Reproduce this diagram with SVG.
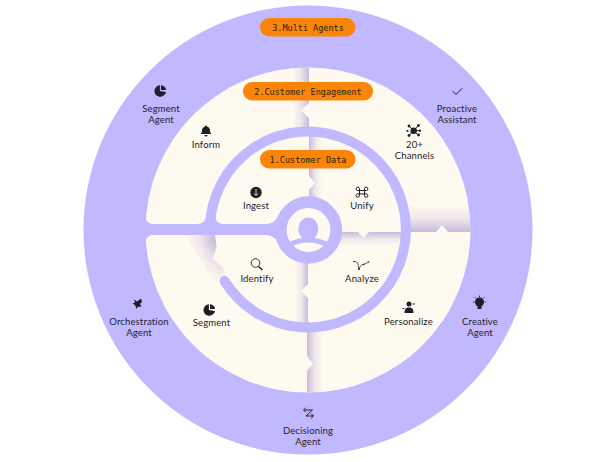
<svg xmlns="http://www.w3.org/2000/svg" width="616" height="462" viewBox="0 0 616 462">
<style>
.p{fill:#c2b8ff}
.c{fill:#fffaf0}
.t{font-family:"Lato","Noto Sans",sans-serif;font-size:9.5px;letter-spacing:.15px;fill:#1f1d28;text-anchor:middle}
.b{font-family:"DejaVu Sans Mono","Liberation Mono",monospace;font-size:8.5px;fill:#2e2210;text-anchor:middle}
.o{fill:#fb8508}
.k{fill:#1f1d28}
.s{fill:none;stroke:#1f1d28;stroke-width:1;stroke-linecap:round;stroke-linejoin:round}
</style>
<defs>
<linearGradient id="gl" x1="0" x2="1" y1="0" y2="0"><stop offset="0" stop-color="#c8bbdc" stop-opacity="0"/><stop offset=".5" stop-color="#c8bbdc" stop-opacity=".3"/><stop offset="1" stop-color="#c8bbdc"/></linearGradient>
<linearGradient id="gr" x1="0" x2="1" y1="0" y2="0"><stop offset="0" stop-color="#c8bbdc"/><stop offset=".5" stop-color="#c8bbdc" stop-opacity=".3"/><stop offset="1" stop-color="#c8bbdc" stop-opacity="0"/></linearGradient>
<linearGradient id="gu" x1="0" x2="0" y1="0" y2="1"><stop offset="0" stop-color="#c8bbdc" stop-opacity="0"/><stop offset=".5" stop-color="#c8bbdc" stop-opacity=".3"/><stop offset="1" stop-color="#c8bbdc"/></linearGradient>
<linearGradient id="gd" x1="0" x2="0" y1="0" y2="1"><stop offset="0" stop-color="#c8bbdc"/><stop offset=".5" stop-color="#c8bbdc" stop-opacity=".3"/><stop offset="1" stop-color="#c8bbdc" stop-opacity="0"/></linearGradient>
<radialGradient id="gf" gradientUnits="userSpaceOnUse" cx="308" cy="230" r="126"><stop offset=".74" stop-color="#c8bbdc"/><stop offset=".86" stop-color="#c8bbdc" stop-opacity=".3"/><stop offset="1" stop-color="#c8bbdc" stop-opacity="0"/></radialGradient>
<linearGradient id="gm" gradientUnits="userSpaceOnUse" x1="0" x2="0" y1="242" y2="284"><stop offset="0" stop-color="#fff"/><stop offset="1" stop-color="#000"/></linearGradient>
<mask id="mf" maskUnits="userSpaceOnUse" x="170" y="230" width="70" height="65"><rect x="170" y="230" width="70" height="65" fill="url(#gm)"/></mask>
<clipPath id="cd"><circle cx="308" cy="230" r="162.500"/></clipPath>
<g id="pie"><path class="k" d="M-.6-5.700A5.700 5.700 0 1 0 5.200 1.300L-.6 0Z"/><path class="k" d="M.5-5.700A5.700 5.700 0 0 1 5.600-.9L.5-.9Z"/><path class="k" d="M2 .6L5.500 1.300A5.700 5.700 0 0 1 4.200 3.600Z"/></g>
</defs>

<g id="discs">
<circle class="p" cx="308" cy="230" r="224.500"/>
<circle class="c" cx="308" cy="230" r="162.500"/>
</g>

<g id="shadows" clip-path="url(#cd)">
<path fill="url(#gl)" d="M292 66H309V103L301 110.500L309 118V129H292Z"/>
<path fill="url(#gr)" d="M309 135H322V198H309V190L315 183L309 176Z"/>
<path fill="url(#gl)" d="M295 262H308V284L301 291L308 298V325H295Z"/>
<path fill="url(#gr)" d="M307 331H323V394H307V371L313 363.500L307 356Z"/>
<path fill="url(#gd)" d="M340 232H358L363.500 238L369 232H403V246H340Z"/>
<path fill="url(#gu)" d="M404 205H472V232H448L442 225L436 232H404Z"/>
<path fill="url(#gf)" mask="url(#mf)" d="M215 235L216.600 247L212.700 259L223 268L226 278L216 285L186 235Z"/>
</g>

<g id="rings">
<path d="M210 226A98 98 0 1 1 224.600 281" fill="none" stroke="#c2b8ff" stroke-width="10" stroke-linecap="round"/>
<rect class="p" x="144" y="224" width="135" height="11"/>
<path class="p" d="M145.500 216Q146 224 153 224H145.500ZM145.500 243Q146 235 153 235H145.500ZM197 224Q205 224 207 215L205 224ZM215 216Q216 224 224 224H215ZM266 224Q275 224 280 214L276 224ZM266 235Q275 235 280 245L276 235Z"/>
<circle cx="308.500" cy="230" r="27.800" fill="#fffaf0" stroke="#c2b8ff" stroke-width="11.800"/>
<ellipse class="p" cx="308.300" cy="229" rx="10" ry="11.500"/>
<path d="M287 246Q308 234 330 246" fill="none" stroke="#c2b8ff" stroke-width="5"/>
</g>

<g id="badge-3"><rect class="o" x="260" y="18" width="95.500" height="18.500" rx="9.200"/><text class="b" x="308" y="30.500">3.Multi Agents</text></g>
<g id="badge-2"><rect class="o" x="243" y="82" width="130" height="18.500" rx="9.200"/><text class="b" x="308" y="94.500">2.Customer Engagement</text></g>
<g id="badge-1"><rect class="o" x="260" y="150" width="95.500" height="18.500" rx="9.200"/><text class="b" x="308" y="162.500">1.Customer Data</text></g>

<g id="segment-agent"><use href="#pie" x="160.500" y="91"/><text class="t" x="161" y="111.500">Segment</text><text class="t" x="161" y="122.500">Agent</text></g>
<g id="proactive-assistant"><path class="s" stroke-width="1.100" d="M453 91.500L456 94.500L462 88.500"/><text class="t" x="457" y="111.500">Proactive</text><text class="t" x="457" y="122.500">Assistant</text></g>
<g id="inform"><path class="k" d="M206 125.500a1 1 0 0 1 1 1c2.500.6 3 2.500 3 4.500c0 1.500.8 2.300 1.200 3H200.800c.4-.7 1.200-1.500 1.200-3c0-2 .5-3.900 3-4.500a1 1 0 0 1 1-1ZM204.500 135h3a1.500 1.500 0 0 1-3 0Z"/><text class="t" x="206" y="148">Inform</text></g>
<g id="channels"><circle class="k" cx="413.700" cy="130.700" r="3.200"/><path class="s" d="M409 126L418.500 135.500M418.500 125.500L409 135.500M413.700 130.700H420"/><circle class="k" cx="409" cy="126" r="1.400"/><circle class="k" cx="418.500" cy="125.500" r="1.400"/><circle class="k" cx="409" cy="135.500" r="1.400"/><circle class="k" cx="418.500" cy="135" r="1.400"/><circle class="k" cx="420" cy="130.700" r="1.100"/><circle class="k" cx="407.500" cy="131" r="1.100"/><text class="t" x="414.500" y="147.500">20+</text><text class="t" x="414.500" y="158.500">Channels</text></g>
<g id="ingest"><circle class="k" cx="256" cy="192.500" r="5.700"/><path d="M256 189V195.500M254 193.500L256 195.500L258 193.500" fill="none" stroke="#fffaf0" stroke-width=".8"/><text class="t" x="256" y="208.500">Ingest</text></g>
<g id="unify"><path class="s" stroke-width=".8" d="M359.500 195V188.800A1.700 1.700 0 1 0 357.800 190.500H366.200A1.700 1.700 0 1 0 364.500 188.800V195.600A1.700 1.700 0 1 0 366.200 193.900H357.800A1.700 1.700 0 1 0 359.500 195.600Z"/><text class="t" x="362" y="208.500">Unify</text></g>
<g id="identify"><circle cx="255.500" cy="263" r="4.300" fill="none" stroke="#1f1d28" stroke-width=".9"/><path d="M258.500 266.500L262.500 270" fill="none" stroke="#1f1d28" stroke-width="1.500"/><text class="t" x="257" y="281.500">Identify</text></g>
<g id="analyze"><path d="M354 261.500C356 261.500 357.500 261.500 358 264C358.400 266 358.500 268 359 269C360 266 361 265 363 264.500C365 264 366 263 368 262.500" fill="none" stroke="#1f1d28" stroke-width=".7"/><circle class="k" cx="354" cy="261.500" r=".8"/><circle class="k" cx="359" cy="269" r="1"/><circle class="k" cx="364" cy="264.500" r=".8"/><circle class="k" cx="368.500" cy="262" r=".8"/><text class="t" x="362" y="282">Analyze</text></g>
<g id="segment"><use href="#pie" x="209.500" y="310"/><text class="t" x="211.500" y="326">Segment</text></g>
<g id="personalize"><circle class="k" cx="409" cy="304" r="2.500"/><path class="k" d="M404.500 313C404.500 309 406 307.500 409 307.500C412 307.500 413.500 309 413.500 313Z"/><path class="s" stroke-width=".6" d="M413 304H414.500M403 308.500H404"/><text class="t" x="408.500" y="325">Personalize</text></g>
<g id="orchestration-agent"><path class="k" d="M134 299.500L137 301.500L141 298.500L142 302L140 304L141.500 307L138 306.500L136.500 309L135 305L132.500 303.500L135 302.500Z"/><text class="t" x="139" y="324.500">Orchestration</text><text class="t" x="139" y="335.500">Agent</text></g>
<g id="creative-agent"><circle class="k" cx="479.500" cy="302" r="4.500"/><rect class="k" x="477.500" y="306" width="4" height="3"/><path class="s" stroke-width=".6" d="M479.500 296V296.500M473.500 302H474M485.500 302H485M475 297.500L475.500 298M484 297.500L483.500 298"/><text class="t" x="480" y="324.500">Creative</text><text class="t" x="480" y="335.500">Agent</text></g>
<g id="decisioning-agent"><path class="s" stroke-width="1.100" d="M305 410H312.500L306 416H313"/><path class="s" stroke-width="1.100" d="M305.500 408L303.500 410L305.500 412M311.500 414L313.500 416L311.500 418"/><text class="t" x="308" y="433.500">Decisioning</text><text class="t" x="308" y="444.500">Agent</text></g>
</svg>
